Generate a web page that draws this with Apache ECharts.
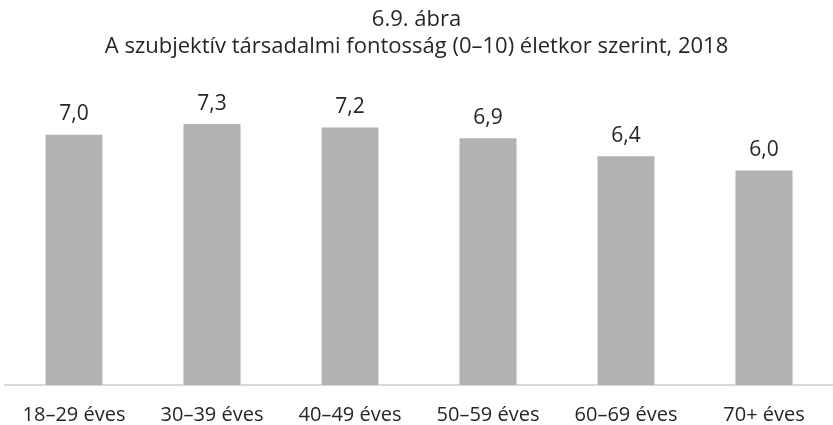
<!DOCTYPE html>
<html>
<head>
<meta charset="utf-8">
<script src="https://cdn.jsdelivr.net/npm/echarts@6/dist/echarts.min.js"></script>
<style>
  html, body { margin: 0; padding: 0; background: #ffffff; }
  #chart { width: 833px; height: 425px; }
</style>
</head>
<body>
<div id="chart"></div>
<script>
// Age groups and their mean subjective social importance scores (0–10 scale)
const categories = ['18–29 éves', '30–39 éves', '40–49 éves', '50–59 éves', '60–69 éves', '70+ éves'];
const values = [7.0, 7.3, 7.2, 6.9, 6.4, 6.0];
const titleLines = ['6.9. ábra', 'A szubjektív társadalmi fontosság (0–10) életkor szerint, 2018'];

const FONT = '"Open Sans", "Noto Sans", sans-serif';
const chart = echarts.init(document.getElementById('chart'));

chart.setOption({
  animation: false,
  backgroundColor: '#ffffff',
  title: {
    text: titleLines.join('\n'),
    left: 'center',
    top: 6,
    padding: [0, 0, 0, 16],
    textStyle: {
      fontFamily: FONT,
      fontSize: 22,
      fontWeight: 'normal',
      color: '#262626',
      lineHeight: 27
    }
  },
  grid: {
    left: 5,
    top: 99,
    width: 840,
    height: 286,
    containLabel: false
  },
  xAxis: {
    type: 'category',
    data: categories,
    axisLine: { lineStyle: { color: '#d9d9d9', width: 2 } },
    axisTick: { show: false },
    axisLabel: {
      fontFamily: FONT,
      fontSize: 20,
      color: '#262626',
      margin: 20,
      interval: 0
    }
  },
  yAxis: {
    type: 'value',
    min: 0,
    max: 8,
    show: false,
    splitLine: { show: false }
  },
  series: [{
    type: 'bar',
    data: values,
    barWidth: 57,
    itemStyle: { color: '#b2b2b2' },
    label: {
      show: true,
      position: 'top',
      distance: 10,
      fontFamily: FONT,
      fontSize: 21,
      color: '#262626',
      formatter: p => p.value.toFixed(1).replace('.', ',')
    }
  }]
});
</script>
</body>
</html>
